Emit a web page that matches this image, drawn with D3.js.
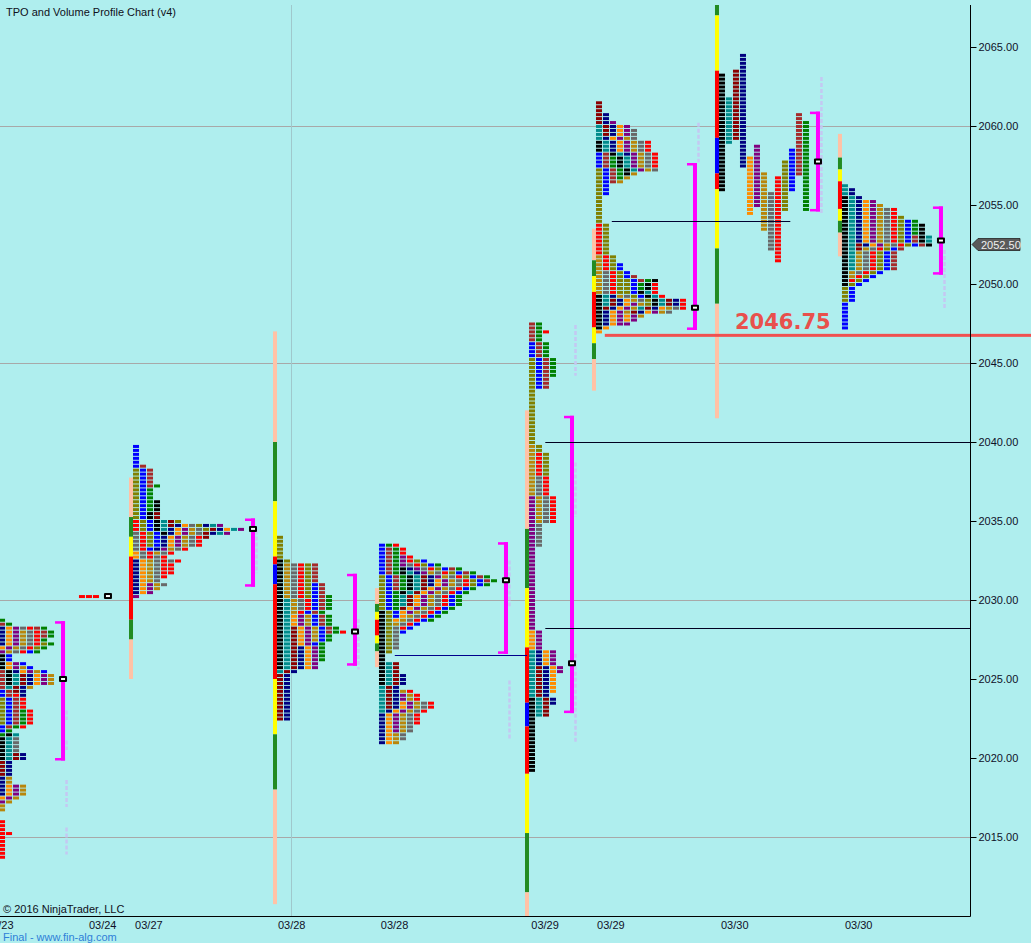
<!DOCTYPE html>
<html><head><meta charset="utf-8">
<script src="https://cdn.jsdelivr.net/npm/d3@7/dist/d3.min.js"></script>
<style>
html,body{margin:0;padding:0;background:#AFEEEE;}
svg{display:block;}
</style></head><body>
<svg id="c" width="1031" height="943"></svg>
<script>
// ---------------- DATA ----------------
const title = "TPO and Volume Profile Chart (v4)";
const yTicks = [2015, 2020, 2025, 2030, 2035, 2040, 2045, 2050, 2055, 2060, 2065];
const yGrid = [2015, 2030, 2045, 2060];
const xLabels = ["03/23","03/24","03/27","03/28","03/28","03/29","03/29","03/30","03/30"];
const xLabelPos = [-2.0, 12.7, 19.3, 39.7, 54.4, 75.9, 85.3, 103.0, 120.7]; // time axis, in TPO columns
const xGrid = [41.6];
const lastPrice = 2052.50;
const levelPrice = 2046.75;
const levelFrom = 86.4;

// TPO letter colours (one per half-hour period)
const periodColor = {k:"#000000", t:"#008B8B", d:"#8B0000", n:"#000080", o:"#FF8C00", p:"#800080",
  g:"#B8860B", y:"#696969", r:"#FF0000", v:"#808000", b:"#0000FF", w:"#A52A2A", e:"#008000"};
const rangeColor = {pe:"#FFC2A6", gr:"#228B22", ye:"#FFFF00", re:"#FF0000", bl:"#0000FF"};

// sessions
const sessionKeys  = ["A","S","B","C","D","E","F","G","H"];
const sessionStart = [-0.71, 10.71, 18.43, 39.0, 53.57, 75.0, 84.57, 102.14, 119.71];
const sessionSplit = [0,0,0,0,0,0,0,1,0];
const sessionPOC = [2025.0, 2030.25, 2034.5, 2028.0, 2031.25, 2026.0, 2048.5, 2057.75, 2052.75];
const sessionVAH = [2028.5, null, 2035.0, 2031.5, 2033.5, 2041.5, 2057.5, 2060.75, 2054.75];
const sessionVAL = [2020.0, null, 2031.0, 2026.0, 2026.75, 2023.0, 2047.25, 2054.75, 2050.75];

// periods: [letter, low, high] in time order
const tpoA = [["r",2013.75,2016.0],["r",2015.25,2015.25],["v",2022.25,2023.75],["b",2021.75,2024.25],
  ["w",2022.0,2025.5],["e",2021.5,2023.0],["k",2020.0,2021.5],["t",2020.0,2021.5],["d",2019.0,2020.25],
  ["n",2017.75,2020.25],["o",2017.5,2018.25],["p",2017.25,2018.25],["g",2016.75,2018.75],["y",2020.5,2021.25],
  ["r",2022.0,2024.0],["k",2024.75,2026.5],["t",2024.5,2025.25],["d",2024.25,2025.25],["n",2024.0,2025.5],
  ["o",2024.75,2026.0],["p",2024.75,2026.0],["g",2024.5,2025.75],["n",2027.25,2028.25],["o",2027.0,2028.25],
  ["p",2026.75,2028.25],["g",2026.75,2028.0],["y",2026.75,2028.25],["r",2026.75,2028.25],["v",2027.0,2027.25],
  ["b",2025.5,2026.75],["w",2027.75,2028.5],["e",2026.75,2028.75]];
const tpoS = [["r",2030.25,2030.25],["r",2030.25,2030.25],["r",2030.25,2030.25]];
const tpoB = [["n",2030.5,2032.5],["o",2030.5,2033.0],["p",2030.25,2031.0],["g",2030.75,2032.5],
  ["y",2031.0,2034.25],["r",2031.5,2035.0],["v",2033.5,2038.25],["b",2033.25,2039.75],["w",2037.25,2038.5],
  ["e",2035.75,2037.25],["k",2034.25,2036.25],["t",2034.5,2035.0],["d",2034.75,2035.5],["n",2033.25,2034.75],
  ["o",2033.5,2034.75],["p",2033.25,2034.5],["g",2033.0,2034.5],["y",2032.5,2034.75],["r",2031.75,2034.0],
  ["v",2034.5,2035.0],["d",2034.0,2034.5],["n",2034.25,2034.75],["o",2034.5,2034.5],["t",2034.25,2034.75],
  ["p",2034.25,2034.75]];
const tpoC = [["k",2025.75,2032.5],["t",2025.5,2030.0],["d",2022.5,2028.25],["n",2022.5,2027.0],
  ["o",2025.75,2029.0],["p",2025.75,2029.0],["g",2027.5,2032.25],["y",2029.5,2032.25],["r",2029.25,2032.25],
  ["v",2030.25,2034.0],["b",2027.25,2031.0],["w",2028.0,2032.25],["e",2026.25,2030.25],["r",2028.0,2028.0]];
const tpoD = [["k",2024.75,2029.25],["t",2023.0,2026.0],["d",2023.25,2026.0],["n",2021.0,2025.25],
  ["o",2021.0,2023.5],["p",2021.75,2024.0],["g",2021.0,2024.25],["y",2021.25,2023.5],["r",2022.25,2024.25],
  ["v",2026.75,2031.5],["b",2029.0,2033.5],["w",2030.75,2033.25],["e",2029.5,2033.5],
  ["k",2030.5,2032.0],["t",2029.75,2031.75],["d",2029.5,2031.5],["n",2031.0,2032.0],["o",2028.75,2031.25],
  ["p",2029.25,2032.75],["g",2028.5,2031.75],["y",2027.0,2032.25],["r",2028.25,2033.5],["v",2031.0,2032.5],
  ["b",2028.0,2032.5],["w",2031.25,2032.0],["e",2028.75,2032.25]];
const tpoE = [["k",2019.25,2023.75],["t",2022.75,2026.75],["d",2022.75,2025.75],["n",2023.5,2026.75],
  ["o",2024.25,2028.0],["p",2025.5,2036.5],["g",2035.0,2039.75],["y",2033.5,2037.75],["r",2035.0,2039.25],
  ["v",2038.0,2045.25],["b",2043.5,2046.25],["w",2043.5,2047.5],["e",2044.25,2047.5],["r",2047.0,2047.0]];
const tpoF = [["k",2047.25,2049.25],["t",2048.75,2049.25],["d",2048.5,2049.0],["n",2047.5,2049.25],
  ["o",2047.0,2049.0],["p",2047.5,2048.75],["g",2048.25,2051.75],["y",2049.0,2050.75],["r",2049.5,2053.75],
  ["v",2048.75,2057.25],["b",2055.75,2058.25],["w",2056.5,2058.25],["e",2056.75,2058.0],
  ["k",2057.0,2059.0],["t",2057.25,2060.0],["d",2059.5,2061.5],["n",2058.25,2060.75],["o",2058.5,2060.0],
  ["p",2057.25,2060.25],["g",2056.5,2059.25],["y",2057.25,2059.75],["r",2057.5,2059.0],
  ["v",2049.5,2050.25],["b",2049.25,2051.25],["w",2050.25,2050.5],["e",2049.75,2050.25],["k",2048.75,2050.25],
  ["t",2048.5,2049.5],["d",2048.25,2049.0],["n",2048.25,2049.0],["o",2047.75,2048.5],["p",2047.5,2048.25],
  ["g",2048.0,2048.5],["y",2048.25,2048.5],["r",2048.5,2050.0]];
const tpoG = [["k",2056.0,2063.25],["t",2059.0,2061.75],["d",2059.25,2063.5],["n",2057.5,2064.5],
  ["o",2054.5,2058.0],["p",2055.0,2058.75],["g",2053.5,2057.0],["y",2052.25,2055.75],["r",2051.5,2056.75],
  ["v",2054.75,2057.75],["b",2056.0,2058.5],["w",2057.0,2060.75],["e",2054.75,2060.25]];
const tpoH = [["k",2050.0,2055.5],["t",2051.0,2056.25],["d",2052.25,2052.5],["n",2052.5,2056.0],
  ["o",2052.5,2055.25],["p",2052.5,2055.25],["g",2050.5,2055.0],["y",2050.75,2054.75],["r",2050.25,2054.75],
  ["v",2049.0,2054.25],["b",2047.25,2054.0],["w",2051.0,2053.0],["e",2053.25,2054.0],["k",2052.5,2053.75],
  ["t",2052.75,2053.0]];

// session range bars: [high, low, colour]
const rangeB = [[2037.75,2035.25,"pe"],[2035.25,2034.0,"gr"],[2034.0,2032.75,"ye"],[2032.75,2028.75,"re"],[2028.75,2027.5,"gr"],[2027.5,2025.0,"pe"]];
const rangeC = [[2047.0,2040.0,"pe"],[2040.0,2036.25,"gr"],[2036.25,2032.75,"ye"],[2032.75,2032.25,"re"],[2032.25,2031.0,"bl"],[2031.0,2025.0,"re"],[2025.0,2021.5,"ye"],[2021.5,2018.0,"gr"],[2018.0,2010.75,"pe"]];
const rangeD = [[2030.75,2029.75,"pe"],[2029.75,2029.25,"gr"],[2029.25,2028.75,"ye"],[2028.75,2027.75,"re"],[2027.75,2027.25,"ye"],[2027.25,2026.75,"gr"],[2026.75,2025.75,"pe"]];
const rangeE = [[2042.0,2034.5,"pe"],[2034.5,2030.75,"gr"],[2030.75,2027.0,"ye"],[2027.0,2023.5,"re"],[2023.5,2022.0,"bl"],[2022.0,2019.0,"re"],[2019.0,2015.25,"ye"],[2015.25,2011.5,"gr"],[2011.5,2004.0,"pe"]];
const rangeF = [[2053.5,2051.5,"pe"],[2051.5,2050.5,"gr"],[2050.5,2049.5,"ye"],[2049.5,2047.25,"re"],[2047.25,2046.25,"ye"],[2046.25,2045.25,"gr"],[2045.25,2043.25,"pe"]];
const rangeG = [[2070.5,2067.0,"gr"],[2067.0,2063.5,"ye"],[2063.5,2059.25,"re"],[2059.25,2057.0,"bl"],[2057.0,2056.0,"re"],[2056.0,2052.25,"ye"],[2052.25,2048.75,"gr"],[2048.75,2041.5,"pe"]];
const rangeH = [[2059.5,2058.0,"pe"],[2058.0,2057.25,"gr"],[2057.25,2056.5,"ye"],[2056.5,2054.75,"re"],[2054.75,2054.0,"ye"],[2054.0,2053.25,"gr"],[2053.25,2051.75,"pe"]];

// faint volume-profile traces beside the value-area brackets: [session, low, high]
const volTrace = [["A",2013.9,2015.6],["A",2016.9,2018.6],["A",2020.5,2021.1],["A",2022.4,2023.0],
  ["B",2031.7,2034.4],["C",2025.6,2028.8],["D",2029.6,2032.5],["D",2021.1,2024.9],
  ["E",2044.2,2047.4],["E",2035.25,2038.7],["E",2021.0,2026.6],["F",2057.7,2060.2],
  ["G",2054.5,2063.1],["H",2048.35,2052.15]];

// horizontal reference lines: [price, from, to, colour]
const refLines = [[2026.5,56.4,75.3,"#00008B"],[2040.0,77.9,138.6,"#000020"],[2028.25,77.9,138.6,"#000020"],[2054.0,87.4,112.9,"#000030"]];

// ---------------- DRAW ----------------
const tpoBy = {A:tpoA,S:tpoS,B:tpoB,C:tpoC,D:tpoD,E:tpoE,F:tpoF,G:tpoG,H:tpoH};
const rangeBy = {B:rangeB,C:rangeC,D:rangeD,E:rangeE,F:rangeF,G:rangeG,H:rangeH};
const FONT = "'Liberation Sans',Arial,sans-serif";

const W = 1031, Ht = 943, plotR = 970, plotT = 5, plotB = 916;
const svg = d3.select("#c");
const yS = d3.scaleLinear().domain([2015, 2065]).range([837, 47]);
const xS = d3.scaleLinear().domain([0, 1]).range([0, 7]);
const BAR = 4/7, BLOCK = 6/7;

svg.append("rect").attr("width", W).attr("height", Ht).attr("fill", "#AFEEEE");
const defs = svg.append("defs");
defs.append("clipPath").attr("id","plot").append("rect").attr("x",0).attr("y",plotT).attr("width",plotR).attr("height",plotB-plotT);
const plot = svg.append("g").attr("clip-path","url(#plot)");

// grid
plot.selectAll("line.hg").data(yGrid).join("line").attr("class","hg")
  .attr("x1",0).attr("x2",plotR).attr("y1",d=>Math.round(yS(d))+0.5).attr("y2",d=>Math.round(yS(d))+0.5)
  .attr("stroke","#A8A8A8").attr("stroke-width",1);
plot.selectAll("line.vg").data(xGrid).join("line").attr("class","vg")
  .attr("x1",d=>Math.round(xS(d))+0.5).attr("x2",d=>Math.round(xS(d))+0.5).attr("y1",plotT).attr("y2",plotB)
  .attr("stroke","#9FC8CC").attr("stroke-width",1);

const q = v => Math.round(v*4);
const bracketX = {};
sessionKeys.forEach((key, si) => {
  const g = plot.append("g");
  const s0 = sessionStart[si];
  const rng = rangeBy[key];
  if (rng) {
    g.selectAll("rect.rb").data(rng).join("rect").attr("class","rb")
      .attr("x", xS(s0)).attr("width", xS(BAR)-xS(0))
      .attr("y", d=>yS(d[0])).attr("height", d=>yS(d[1])-yS(d[0]))
      .attr("fill", d=>rangeColor[d[2]]);
  }
  const per = tpoBy[key];
  const blocks = [];
  let maxLen = 0;
  if (sessionSplit[si]) {
    per.forEach((pd, i) => {
      for (let t = q(pd[1]); t <= q(pd[2]); t++) blocks.push({c: pd[0], col: i, p: t/4});
    });
    maxLen = per.length;
  } else {
    const rows = new Map();
    per.forEach(pd => {
      for (let t = q(pd[1]); t <= q(pd[2]); t++) {
        if (!rows.has(t)) rows.set(t, []);
        rows.get(t).push(pd[0]);
      }
    });
    rows.forEach((arr, t) => {
      arr.forEach((c, k) => blocks.push({c, col: k, p: t/4}));
      maxLen = Math.max(maxLen, arr.length);
    });
  }
  g.selectAll("rect.tp").data(blocks).join("rect").attr("class","tp")
    .attr("x", d=>xS(s0 + BAR + d.col)).attr("width", xS(BLOCK)-xS(0))
    .attr("y", d=>yS(d.p)-1).attr("height", 3)
    .attr("fill", d=>periodColor[d.c]);

  const bx = xS(s0 + BAR + maxLen) + 8;
  bracketX[key] = bx;
  if (sessionVAH[si] != null) {
    const t = yS(sessionVAH[si]) - 2.5, b = yS(sessionVAL[si]) + 2.5;
    g.append("rect").attr("x", bx-2).attr("y", t).attr("width", 4).attr("height", b-t).attr("fill","#FF00FF");
    g.append("rect").attr("x", bx-8).attr("y", t).attr("width", 10).attr("height", 2.5).attr("fill","#FF00FF");
    g.append("rect").attr("x", bx-8).attr("y", b-2.5).attr("width", 10).attr("height", 2.5).attr("fill","#FF00FF");
  }
});

// faint volume traces
plot.selectAll("line.vt").data(volTrace).join("line").attr("class","vt")
  .attr("x1", d=>bracketX[d[0]]+3.5).attr("x2", d=>bracketX[d[0]]+3.5)
  .attr("y1", d=>yS(d[2])).attr("y2", d=>yS(d[1]))
  .attr("stroke","#C4C8F2").attr("stroke-width",2.5).attr("stroke-dasharray","4,2");

// POC markers
sessionKeys.forEach((key, si) => {
  const bx = bracketX[key], py = yS(sessionPOC[si]);
  plot.append("rect").attr("x", bx-4).attr("y", py-3).attr("width", 8).attr("height", 6).attr("rx",1).attr("fill","#000");
  plot.append("rect").attr("x", bx-2).attr("y", py-1).attr("width", 4).attr("height", 2).attr("fill","#fff");
});

// reference lines
plot.selectAll("line.ref").data(refLines).join("line").attr("class","ref")
  .attr("x1", d=>xS(d[1])).attr("x2", d=>xS(d[2]))
  .attr("y1", d=>Math.round(yS(d[0]))+0.5).attr("y2", d=>Math.round(yS(d[0]))+0.5)
  .attr("stroke", d=>d[3]).attr("stroke-width", 1);

// level line
svg.append("rect").attr("x", xS(levelFrom)).attr("y", yS(levelPrice)-1.5).attr("width", W - xS(levelFrom)).attr("height", 3)
  .attr("fill", "#F05050");
svg.append("text").attr("x", 735).attr("y", yS(levelPrice)-6)
  .style("font-family","'DejaVu Sans',Verdana,sans-serif").style("font-size","21px").style("font-weight","bold")
  .attr("fill","#E8504C").text(levelPrice.toFixed(2));

// axes
svg.append("line").attr("x1", plotR+0.5).attr("x2", plotR+0.5).attr("y1", plotT).attr("y2", plotB+0.5).attr("stroke","#000");
svg.append("line").attr("x1", 0).attr("x2", plotR+0.5).attr("y1", plotB+0.5).attr("y2", plotB+0.5).attr("stroke","#000");
const yAxis = d3.axisRight(yS).tickValues(yTicks).tickSize(6).tickPadding(2).tickFormat(d3.format(".2f"));
const ya = svg.append("g").attr("transform", `translate(${plotR+0.5},0)`).call(yAxis);
ya.select(".domain").remove();
ya.selectAll("text").style("font-size","11px").attr("fill","#101028").style("font-family",FONT);
ya.selectAll("line").attr("stroke","#000");

// last price tag
const lp = yS(lastPrice);
svg.append("path").attr("d", `M${plotR+2},${lp} L${plotR+8},${lp-6} L1020,${lp-6} L1020,${lp+6} L${plotR+8},${lp+6} Z`)
  .attr("fill","#5A5A5A").attr("stroke","#222").attr("stroke-width",0.8);
svg.append("text").attr("x", 981).attr("y", lp+4).style("font-size","11px").style("font-family",FONT)
  .attr("fill","#F0F0F0").text(lastPrice.toFixed(2));

// x labels
svg.selectAll("text.xl").data(xLabels).join("text").attr("class","xl")
  .attr("x", (d,i)=>xS(xLabelPos[i])).attr("y", 929).style("font-size","11px").style("font-family",FONT)
  .attr("fill","#101028").text(d=>d);

// texts
svg.append("text").attr("x", 6).attr("y", 16).style("font-size","11px").style("font-family",FONT).attr("fill","#101020").text(title);
svg.append("text").attr("x", 3).attr("y", 913).style("font-size","11px").style("font-family",FONT).attr("fill","#101020").text("© 2016 NinjaTrader, LLC");
svg.append("text").attr("x", 3).attr("y", 941).style("font-size","11px").style("font-family",FONT).attr("fill","#2E7FD8").text("Final - www.fin-alg.com");
</script>
</body></html>
